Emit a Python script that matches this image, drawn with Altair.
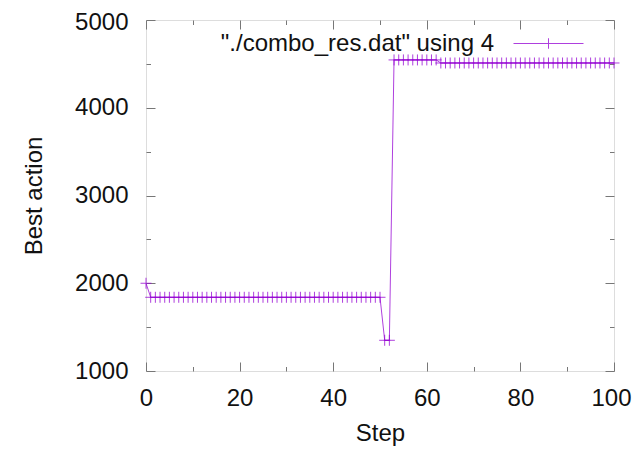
import altair as alt
import pandas as pd

# ---- data ----
steps = list(range(0, 101))
best_action = [
    2000,
    1840, 1840, 1840, 1840, 1840, 1840, 1840, 1840, 1840, 1840,
    1840, 1840, 1840, 1840, 1840, 1840, 1840, 1840, 1840, 1840,
    1840, 1840, 1840, 1840, 1840, 1840, 1840, 1840, 1840, 1840,
    1840, 1840, 1840, 1840, 1840, 1840, 1840, 1840, 1840, 1840,
    1840, 1840, 1840, 1840, 1840, 1840, 1840, 1840, 1840, 1840,
    1350, 1350,
    4545, 4545, 4545, 4545, 4545, 4545, 4545, 4545, 4545, 4545,
    4510, 4510, 4510, 4510, 4510, 4510, 4510, 4510, 4510, 4510,
    4510, 4510, 4510, 4510, 4510, 4510, 4510, 4510, 4510, 4510,
    4510, 4510, 4510, 4510, 4510, 4510, 4510, 4510, 4510, 4510,
    4510, 4510, 4510, 4510, 4510, 4510, 4510, 4510,
]
series_name = '"./combo_res.dat" using 4'
x_label_values = [0, 20, 40, 60, 80, 100]
x_tick_values = [0, 10, 20, 30, 40, 50, 60, 70, 80, 90, 100]
y_label_values = [1000, 2000, 3000, 4000, 5000]
y_tick_values = [1000, 1500, 2000, 2500, 3000, 3500, 4000, 4500, 5000]

df = pd.DataFrame({"step": steps, "value": best_action, "series": series_name})

W, H = 468, 351
PURPLE = "#9400d3"
FONT = "Liberation Sans"
FS = 24
BORDER = "#555555"

xs = alt.Scale(domain=[0, 100], nice=False, zero=False)
ys = alt.Scale(domain=[1000, 5000], nice=False, zero=False)

x_tick_size = {"condition": {"test": "datum.value % 20 == 0", "value": 9}, "value": 4.5}
y_tick_size = {"condition": {"test": "datum.value % 1000 == 0", "value": 9}, "value": 4.5}
# keep edge labels inside the canvas
x_label_offset = {"condition": {"test": "datum.value == 100", "value": -3}, "value": 0}
y_label_offset = {"condition": {"test": "datum.value == 5000", "value": 2}, "value": 0}

common_tick = dict(grid=False, labels=False, title=None, tickColor="#777777", tickWidth=1,
                   domain=False)

# label axes
ax_x_labels = alt.Axis(orient="bottom", values=x_label_values, ticks=False, domain=False,
                       grid=False, format="d", labelFlush=False, labelOverlap=False,
                       labelOffset=x_label_offset,
                       labelFont=FONT, labelFontSize=FS, labelColor="#111111",
                       labelPadding=15, title="Step", titleFont=FONT, titleFontSize=FS,
                       titleFontWeight="normal", titleColor="#111111", titlePadding=11)
ax_y_labels = alt.Axis(orient="left", values=y_label_values, ticks=False, domain=False,
                       grid=False, format="d", labelFlush=False, labelOverlap=False,
                       labelOffset=y_label_offset,
                       labelFont=FONT, labelFontSize=FS, labelColor="#111111",
                       labelPadding=18, title="Best action", titleFont=FONT, titleFontSize=FS,
                       titleFontWeight="normal", titleColor="#111111", titlePadding=28)
# inward ticks on bottom/left
ax_x_in_bottom = alt.Axis(orient="top", offset=-H, values=x_tick_values, tickSize=x_tick_size,
                          **common_tick)
ax_y_in_left = alt.Axis(orient="right", offset=-W, values=y_tick_values, tickSize=y_tick_size,
                        **common_tick)
# inward ticks on top/right
ax_x_in_top = alt.Axis(orient="bottom", offset=-H, values=x_tick_values, tickSize=x_tick_size,
                       **common_tick)
ax_y_in_right = alt.Axis(orient="left", offset=-W, values=y_tick_values, tickSize=y_tick_size,
                         **common_tick)

base = alt.Chart(df)

line = base.mark_line(strokeWidth=1, color=PURPLE, opacity=0.75).encode(
    x=alt.X("step:Q", scale=xs, axis=ax_x_labels),
    y=alt.Y("value:Q", scale=ys, axis=ax_y_labels),
    color=alt.Color(
        "series:N",
        scale=alt.Scale(range=[PURPLE]),
        legend=alt.Legend(
            title=None, orient="none", legendX=367, legendY=-12, padding=0,
            symbolType="M-1,0H1M0,-0.15V0.15", symbolSize=4900, symbolStrokeWidth=1,
            symbolStrokeColor=PURPLE, symbolFillColor="transparent", symbolOpacity=0.75,
            labelAlign="right", labelOffset={"expr": "-90"}, labelFont=FONT, labelFontSize=FS,
            labelColor="#111111", labelLimit=0,
        ),
    ),
)

points = base.mark_point(shape="M-1,0H1M0,-1V1", size=121, filled=False, strokeWidth=1,
                         color=PURPLE, opacity=0.75).encode(
    x=alt.X("step:Q", scale=xs, axis=ax_x_in_bottom),
    y=alt.Y("value:Q", scale=ys, axis=ax_y_in_left),
)

ghost = base.mark_point(opacity=0, size=1).encode(
    x=alt.X("step:Q", scale=xs, axis=ax_x_in_top),
    y=alt.Y("value:Q", scale=ys, axis=ax_y_in_right),
)

chart = (
    alt.layer(line, points, ghost)
    .resolve_axis(x="independent", y="independent")
    .properties(
        width=W, height=H,
        autosize=alt.AutoSizeParams(type="none"),
        padding={"left": 138, "top": 12, "right": 19, "bottom": 78},
    )
    .configure_view(stroke=BORDER, strokeWidth=1.5)
    .configure(background="white")
)

chart.save("out.html", embed_options={"renderer": "svg", "actions": False})
